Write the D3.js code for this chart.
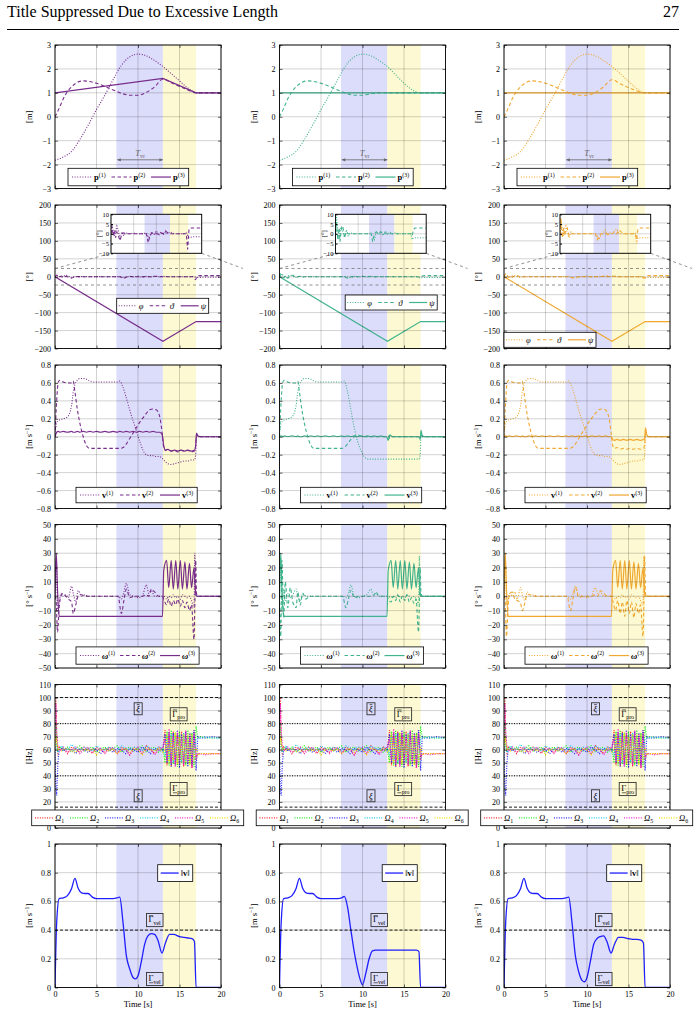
<!DOCTYPE html>
<html>
<head>
<meta charset="utf-8">
<script src="https://cdn.jsdelivr.net/npm/d3@7"></script>
<style>
body { margin: 0; background: #fff; }
svg { display: block; font-family: "Liberation Serif", "Times New Roman", serif; }
</style>
</head>
<body>
<svg id="svg" width="699" height="1015"></svg>
<script>
// ---- data ----
var xTicks = [0, 5, 10, 15, 20];
var shadeBlue = [7.4, 13], shadeYellow = [13, 17];

// row 1: position
var tPos = [0, 1, 2, 3, 4, 5, 6, 7, 8, 9, 10, 11, 12, 13, 14, 15, 16, 17, 18, 20];
var p1A = [-1.82, -1.68, -1.45, -0.95, -0.35, 0.3, 0.9, 1.55, 2.15, 2.5, 2.62, 2.55, 2.35, 2.1, 1.8, 1.5, 1.2, 1.0, 1.0, 1.0];
var p1B = [-1.82, -1.68, -1.45, -0.95, -0.35, 0.3, 0.9, 1.55, 2.15, 2.5, 2.62, 2.55, 2.35, 2.1, 1.75, 1.4, 1.12, 1.0, 1.0, 1.0];
var p1C = [-1.82, -1.68, -1.45, -0.95, -0.35, 0.3, 0.9, 1.55, 2.15, 2.5, 2.62, 2.55, 2.35, 2.1, 1.8, 1.48, 1.18, 1.0, 1.0, 1.0];
var tPos2 = [0, 0.5, 1, 1.5, 2, 2.5, 3, 3.5, 4, 5, 6, 7, 8, 9, 10, 11, 12, 13, 14, 15, 16, 17, 18, 20];
var p2A = [0, 0.35, 0.75, 1.05, 1.25, 1.4, 1.48, 1.5, 1.48, 1.4, 1.27, 1.12, 0.98, 0.9, 0.9, 1.02, 1.25, 1.57, 1.42, 1.27, 1.12, 1.0, 1.0, 1.0];
var p2B = [0, 0.35, 0.75, 1.05, 1.25, 1.4, 1.48, 1.5, 1.48, 1.4, 1.27, 1.12, 0.98, 0.9, 0.9, 0.96, 1.0, 1.0, 1.0, 1.0, 1.0, 1.0, 1.0, 1.0];
var p2C = [0, 0.35, 0.75, 1.05, 1.25, 1.4, 1.48, 1.5, 1.48, 1.4, 1.27, 1.12, 0.98, 0.9, 0.9, 1.02, 1.25, 1.55, 1.38, 1.22, 1.08, 1.0, 1.0, 1.0];
var tPos3 = [0, 13, 17, 20];
var p3A = [1, 1.6, 1, 1];
var p3B = [1, 1, 1, 1];
var p3C = [1, 1, 1, 1];

// row 2: attitude
var tPsi = [0, 13, 17, 20];
var psiAll = [0, -180, -125, -125];
var tAng = [0, 0.2, 0.5, 0.8, 1, 1.3, 1.6, 2, 2.4, 2.8, 3.2, 4, 5, 6, 7, 7.8, 8.2, 8.6, 9, 9.5, 10, 10.5, 11, 11.5, 12, 12.5, 13, 14, 15, 16, 16.6, 16.9, 17.2, 17.5, 18, 19, 20];
var phiA = [0, 5, 1, -1, 1, 4, 2, -3, 1, -1, 0.5, 0, 0.3, 0, 0, 0.5, -2, -1, 1, -0.5, 1.5, -1, 1, -0.5, 1, 0, 1, 0, 0, 0, 0.5, -1, -2, -1.8, -1.5, -1.5, -1.5];
var thA = [0, 4, -1, 2, -2, 1, -1, -3.5, 0, 0.5, 0, 0, 0, 0, 0, 0, -4.5, -1, 0.5, 0, 0, 0, 0.5, 0, 1.5, 0.5, 0, 0, 0, 0, 0, -8, 2.5, 3, 3, 3, 3];
var phiB = [0, 9, 2, -3, 1, 4, 1, -2, 2, -1, 0.5, 0, 0, 0, 0, 0, -1, -3, 1, -0.5, 1.5, -1, 1.5, -0.5, 1, 0, 0.5, 0, 0, 0, 0, -3, -2, -2, -2, -2, -2];
var thB = [0, 6, -3, 3, -4, 3, 4, -2, 1, 0, 0, 0, 0, 0, 0, 0.5, -4, 0, 1, 0, 1, 0, 0.5, 0, 0, 0, 0, 0, 0, 0, 0, -1, 2, 3, 3, 3, 3];
var phiC = [0, 7, 2, -1, 2, 4, 0, -2, 1, 0, 0, 0, 0, 0, 0, 0, -1, -3, -1, 0.5, 2, -1, 0.5, 0, 1.5, 2.5, 0, 0, 0, 0, 0.5, -5, -2, -2, -2, -2, -2];
var thC = [0, 8, -2, 3, -1, 2, 3, -1, 0, 0, 0, 0, 0, 0, 0, 0, -3, -1, 0, 0, 0, 0, 0, 0, 1, 0, 2, 0, 0, 0, 0, -3, 2.5, 3, 3, 3, 3];

// row 3: linear velocity
var tVel = [0, 0.2, 0.4, 0.6, 1, 1.5, 2, 2.2, 2.4, 2.7, 3, 3.4, 3.8, 4.2, 4.6, 5, 5.5, 6, 6.5, 7, 7.5, 7.8, 8.2, 8.6, 9, 9.4, 9.8, 10.2, 10.6, 11, 11.4, 11.8, 12.2, 12.6, 12.9, 13.1, 13.3, 13.6, 14, 14.4, 14.8, 15.2, 15.6, 16, 16.4, 16.8, 16.95, 17.05, 17.2, 17.5, 18, 20];
var v1A = [0.05, 0.15, 0.18, 0.19, 0.2, 0.22, 0.35, 0.5, 0.58, 0.63, 0.65, 0.65, 0.64, 0.62, 0.61, 0.61, 0.61, 0.61, 0.61, 0.61, 0.61, 0.62, 0.55, 0.43, 0.3, 0.18, 0.07, -0.05, -0.15, -0.2, -0.21, -0.21, -0.22, -0.22, -0.24, -0.26, -0.28, -0.3, -0.31, -0.3, -0.29, -0.28, -0.27, -0.27, -0.26, -0.26, -0.2, 0, 0, 0, 0, 0];
var v2A = [0, 0.4, 0.61, 0.63, 0.61, 0.6, 0.6, 0.62, 0.5, 0.3, 0.15, 0, -0.1, -0.13, -0.13, -0.13, -0.13, -0.13, -0.13, -0.13, -0.13, -0.13, -0.12, -0.08, -0.02, 0.04, 0.1, 0.16, 0.21, 0.26, 0.3, 0.31, 0.3, 0.23, 0.05, -0.12, -0.15, -0.14, -0.16, -0.15, -0.17, -0.15, -0.16, -0.15, -0.17, -0.16, -0.1, 0.03, 0.01, 0, 0, 0];
var v3A = [0, 0.05, 0.06, 0.05, 0.06, 0.05, 0.06, 0.05, 0.05, 0.06, 0.05, 0.06, 0.05, 0.06, 0.05, 0.06, 0.05, 0.06, 0.05, 0.06, 0.05, 0.06, 0.05, 0.06, 0.05, 0.06, 0.05, 0.06, 0.05, 0.06, 0.05, 0.06, 0.05, 0.05, 0.03, -0.1, -0.15, -0.14, -0.16, -0.15, -0.16, -0.15, -0.16, -0.15, -0.16, -0.15, -0.1, 0.04, 0.01, 0, 0, 0];
var v1B = [0.05, 0.15, 0.18, 0.19, 0.2, 0.22, 0.35, 0.5, 0.58, 0.63, 0.65, 0.65, 0.64, 0.62, 0.61, 0.61, 0.61, 0.61, 0.61, 0.61, 0.61, 0.62, 0.5, 0.3, 0.1, -0.05, -0.15, -0.22, -0.25, -0.25, -0.25, -0.25, -0.25, -0.25, -0.25, -0.25, -0.25, -0.25, -0.25, -0.25, -0.25, -0.25, -0.25, -0.25, -0.25, -0.25, -0.2, 0, 0, 0, 0, 0];
var v2B = [0, 0.4, 0.61, 0.63, 0.61, 0.6, 0.6, 0.62, 0.5, 0.3, 0.15, 0, -0.1, -0.13, -0.13, -0.13, -0.13, -0.13, -0.13, -0.13, -0.13, -0.12, -0.08, -0.03, 0, 0.02, 0.01, 0, 0, 0, 0, 0, 0, 0, 0, 0.01, -0.02, 0, 0, 0, 0, 0, 0, 0, 0, 0, 0, 0.02, 0, 0, 0, 0];
var v3B = [0, 0.01, 0, 0.01, 0, 0.01, 0, 0.01, 0, 0, 0.01, 0, 0.01, 0, 0.01, 0, 0.01, 0, 0.01, 0, 0.01, 0, 0.01, 0, 0.01, 0, 0.01, 0, 0.01, 0, 0.01, 0, 0.01, 0, 0, -0.04, 0.02, 0, 0, 0, 0, 0, 0, 0, 0, 0, -0.03, 0.07, 0.01, 0, 0, 0];
var v1C = [0.05, 0.15, 0.18, 0.19, 0.2, 0.22, 0.35, 0.5, 0.58, 0.63, 0.65, 0.65, 0.64, 0.62, 0.61, 0.61, 0.61, 0.61, 0.61, 0.61, 0.61, 0.62, 0.55, 0.43, 0.3, 0.18, 0.07, -0.05, -0.15, -0.2, -0.21, -0.21, -0.22, -0.22, -0.24, -0.26, -0.28, -0.3, -0.31, -0.3, -0.29, -0.28, -0.27, -0.27, -0.26, -0.26, -0.2, 0, 0, 0, 0, 0];
var v2C = [0, 0.4, 0.61, 0.63, 0.61, 0.6, 0.6, 0.62, 0.5, 0.3, 0.15, 0, -0.1, -0.13, -0.13, -0.13, -0.13, -0.13, -0.13, -0.13, -0.13, -0.13, -0.12, -0.08, -0.02, 0.04, 0.1, 0.16, 0.21, 0.26, 0.3, 0.31, 0.3, 0.23, 0.05, -0.1, -0.13, -0.12, -0.14, -0.13, -0.14, -0.13, -0.14, -0.13, -0.14, -0.13, -0.08, 0.03, 0.01, 0, 0, 0];
var v3C = [0, 0.01, 0, 0.01, 0, 0.01, 0, 0.01, 0, 0, 0.01, 0, 0.01, 0, 0.01, 0, 0.01, 0, 0.01, 0, 0.01, 0, 0.01, 0, 0.01, 0, 0.01, 0, 0.01, 0, 0.01, 0, 0.01, 0, 0, -0.03, -0.04, -0.03, -0.04, -0.03, -0.04, -0.03, -0.04, -0.03, -0.04, -0.03, -0.02, 0.1, 0.02, 0, 0, 0];

// row 4: angular velocity
var tOm = [0, 0.15, 0.3, 0.5, 0.7, 1, 1.3, 1.6, 2, 2.2, 2.5, 2.8, 3.2, 3.6, 4, 5, 6, 7, 7.6, 8, 8.3, 8.6, 9, 9.5, 10, 10.5, 11, 11.3, 11.6, 12, 12.5, 12.95, 13.1, 13.45, 13.7, 14.0, 14.25, 14.55, 14.8, 15.1, 15.35, 15.65, 15.9, 16.2, 16.45, 16.75, 16.85, 16.95, 17.05, 17.2, 17.5, 18, 20];
var w3All = [0, 30, 5, -14, -14, -14, -14, -14, -14, -14, -14, -14, -14, -14, -14, -14, -14, -14, -14, -14, -14, -14, -14, -14, -14, -14, -14, -14, -14, -14, -14, -14, 18, 25, 6, 25, 5, 25, 5, 25, 5, 24, 5, 23, 6, 20, 10, 2, 0, 0, 0, 0, 0];
var w1A = [0, 25, -10, -5, 2, 0, 1, -1, 7, 2, -4, 4, 0, 1, 0, 0, 0, 0, 0, -2, 3, 9, 1, 0, -1, 0, 8, 2, 4, 0, 0, 0, 0, -2, 0, -1, 1, -1, 0, -2, 1, 0, -1, 0, -3, -8, 30, 5, 0, 0, 0, 0, 0];
var w2A = [0, -5, -25, -8, 0, 2, 0, -2, -4, -12, -6, 0, 1, 0, 0, 0, 0, 0, 0, -12, -3, 5, -1, 0, 0, 0, 1, 0, 5, 3, 0, 0, -2, -6, -2, -7, -3, -6, -2, -7, -3, -8, -4, -10, -6, -30, -5, 25, 2, 0, 0, 0, 0];
var w1B = [0, 20, -8, 5, -3, 2, -1, 1, 5, 0, -3, 2, 0, 0, 0, 0, 0, 0, 0, -1, 2, 8, 0, -1, 0, 1, 5, 1, 2, 0, 0, 0, 0, -1, 0, -1, 1, -1, 0, -1, 1, 0, -1, 0, -2, -5, 28, 3, 0, 0, 0, 0, 0];
var w2B = [0, -28, 25, -15, 10, -8, 6, -4, -8, 3, -6, 2, -2, 0, 0, 0, 0, 0, 0, -8, -2, 4, -1, 0, 0, 0, 0, 0, 3, 0, 0, 0, -2, -4, 0, -3, 1, -4, 0, -3, 1, -4, -1, -5, -2, -25, -3, 20, 2, 0, 0, 0, 0];
var w1C = [0, 22, -6, -3, 2, 0, 3, -2, 6, 1, -3, 3, 0, 1, 0, 0, 0, 0, 0, -2, 2, 7, 1, 0, -1, 0, 6, 2, 3, 0, 0, 0, 0, -2, 0, -1, 1, -1, 0, -2, 1, 0, -1, 0, -3, -6, 28, 4, 0, 0, 0, 0, 0];
var w2C = [0, -4, -28, -6, 2, 3, -2, -3, -5, -10, -5, 1, 1, 0, 0, 0, 0, 0, 0, -10, -2, 6, -1, 0, 0, 0, 1, 0, 4, 2, 0, 0, -3, -10, -3, -12, -4, -14, -3, -12, -4, -15, -5, -12, -6, -28, -5, 28, 2, 0, 0, 0, 0];

// row 5: rotor speeds
var tRot = [0, 0.1, 0.2, 0.35, 0.5, 0.8,
  1, 1.5, 2, 2.5, 3, 3.5, 4, 4.5, 5, 5.5, 6, 6.5, 7, 7.5, 8, 8.5, 9, 9.5, 10, 10.5, 11, 11.5, 12, 12.5, 13,
  13.25, 13.5, 13.75, 14, 14.25, 14.5, 14.75, 15, 15.25, 15.5, 15.75, 16, 16.25, 16.5, 16.75, 17,
  17.2, 17.5, 18, 19, 20];
var om1 = [60, 100, 70, 55, 62, 60,
  61, 57, 62, 60, 58, 62, 60, 57, 62, 60, 58, 62, 60, 57, 62, 60, 56, 62, 60, 57, 63, 60, 57, 62, 60,
  75, 48, 73, 47, 74, 49, 72, 48, 74, 47, 73, 49, 72, 46, 75, 52,
  57, 57, 57, 57, 57];
var om2 = [60, 80, 65, 58, 61, 62,
  60, 62, 58, 61, 63, 59, 61, 62, 58, 61, 62, 59, 61, 63, 58, 61, 62, 59, 61, 63, 58, 61, 62, 58, 61,
  50, 74, 48, 75, 49, 73, 47, 74, 50, 72, 48, 75, 49, 73, 47, 78,
  69, 70, 69, 69, 69];
var om3 = [60, 30, 25, 50, 60, 61,
  59, 61, 60, 57, 61, 60, 58, 61, 60, 57, 61, 60, 58, 61, 60, 57, 61, 60, 58, 62, 60, 57, 61, 60, 59,
  72, 50, 74, 47, 73, 48, 75, 46, 72, 49, 74, 47, 73, 48, 75, 44,
  70, 69, 69, 70, 69];
var om4 = [60, 65, 62, 58, 60, 63,
  61, 60, 64, 61, 60, 62, 61, 59, 63, 61, 60, 62, 61, 59, 63, 61, 60, 62, 61, 59, 63, 61, 60, 62, 61,
  55, 70, 52, 72, 50, 70, 53, 71, 51, 73, 50, 70, 52, 71, 50, 68,
  69, 69, 70, 69, 69];
var om5 = [60, 95, 75, 62, 59, 60,
  62, 58, 60, 62, 57, 60, 62, 58, 60, 61, 57, 60, 62, 58, 60, 61, 56, 60, 62, 57, 60, 61, 56, 60, 62,
  68, 52, 76, 50, 70, 47, 74, 52, 69, 48, 75, 51, 70, 46, 73, 55,
  57, 57, 56, 57, 57];
var om6 = [60, 70, 66, 60, 61, 59,
  60, 61, 59, 58, 61, 60, 59, 61, 56, 60, 61, 59, 61, 57, 60, 61, 58, 61, 60, 56, 61, 60, 59, 61, 58,
  60, 72, 50, 70, 52, 73, 49, 70, 52, 72, 50, 71, 48, 72, 50, 62,
  56, 57, 57, 57, 57];
var rotRefDashed = [100, 16], rotRefDotted = [80, 40];

// row 6: speed norm
var tNv = [0, 0.2, 0.5, 1, 1.5, 2, 2.4, 2.8, 3.2, 3.6, 4, 4.5, 5, 6, 7, 7.5, 7.8, 8.2, 8.6, 9, 9.4, 9.7, 10, 10.4, 10.8, 11.2, 11.6, 12, 12.4, 12.9, 13.3, 13.8, 14.3, 15, 15.5, 16, 16.5, 16.8, 17, 18, 20];
var nvA = [0, 0.45, 0.62, 0.625, 0.64, 0.69, 0.76, 0.69, 0.66, 0.655, 0.655, 0.63, 0.62, 0.62, 0.62, 0.625, 0.63, 0.45, 0.22, 0.13, 0.07, 0.06, 0.08, 0.18, 0.3, 0.36, 0.375, 0.37, 0.33, 0.24, 0.31, 0.37, 0.37, 0.355, 0.35, 0.345, 0.34, 0.32, 0, 0, 0];
var nvB = [0, 0.45, 0.62, 0.625, 0.64, 0.69, 0.76, 0.69, 0.66, 0.655, 0.655, 0.63, 0.62, 0.62, 0.62, 0.625, 0.635, 0.56, 0.4, 0.25, 0.13, 0.06, 0.02, 0.1, 0.2, 0.255, 0.26, 0.26, 0.26, 0.26, 0.26, 0.26, 0.26, 0.26, 0.26, 0.26, 0.26, 0.25, 0, 0, 0];
var nvC = [0, 0.45, 0.62, 0.625, 0.64, 0.69, 0.76, 0.69, 0.66, 0.655, 0.655, 0.63, 0.62, 0.62, 0.62, 0.625, 0.63, 0.45, 0.22, 0.11, 0.05, 0.04, 0.07, 0.18, 0.3, 0.34, 0.355, 0.36, 0.32, 0.24, 0.3, 0.35, 0.35, 0.34, 0.335, 0.335, 0.33, 0.31, 0, 0, 0];
var nvRef = 0.4;

var ticksPos = [-3, -2, -1, 0, 1, 2, 3];
var ticksAng = [-200, -150, -100, -50, 0, 50, 100, 150, 200];
var ticksVel = [-0.8, -0.6, -0.4, -0.2, 0, 0.2, 0.4, 0.6, 0.8];
var ticksOm = [-50, -40, -30, -20, -10, 0, 10, 20, 30, 40, 50];
var ticksHz = [0, 10, 20, 30, 40, 50, 60, 70, 80, 90, 100, 110];
var ticksNv = [0, 0.2, 0.4, 0.6, 0.8, 1];
var ticksInset = [-10, -5, 0, 5, 10];

// ---- layout ----
var svg = d3.select("#svg");
var colLeft = [55, 279.5, 504], rowTop = [45, 205, 365, 524.5, 684.5, 844];
var W = 166, H = 143.5;
var colColor = ["#782d8c", "#41b38e", "#f0a830"];
var rotColor = ["#ff2a2a", "#22ee22", "#2a2aff", "#22ccee", "#ee22cc", "#f2e000"];
var DOT = {w: 1.1, dash: "1,1.6"}, DASH = {w: 1.1, dash: "3.5,2.5"}, SOLID = {w: 1.2, dash: null};
var fmt = d3.format("~g");

svg.append("rect").attr("width", 699).attr("height", 1015).attr("fill", "#fff");
svg.append("text").attr("x", 7).attr("y", 17).attr("font-size", 16).text("Title Suppressed Due to Excessive Length");
svg.append("text").attr("x", 679).attr("y", 17).attr("font-size", 16).attr("text-anchor", "end").text("27");
svg.append("line").attr("x1", 7).attr("x2", 679).attr("y1", 29.5).attr("y2", 29.5).attr("stroke", "#000").attr("stroke-width", 1);

function rich(g, x, y, parts, fs, anchor) {
  var t = g.append("text").attr("x", x).attr("y", y).attr("font-size", fs);
  if (anchor) t.attr("text-anchor", anchor);
  var cur = 0;
  parts.forEach(function(p) {
    if (typeof p === "string") p = {t: p};
    var off = p.sup ? -fs * 0.38 : (p.sub ? fs * 0.25 : 0);
    var s = t.append("tspan").text(p.t).attr("dy", off - cur);
    cur = off;
    if (p.sup || p.sub) s.attr("font-size", fs * 0.7);
    if (p.b) s.attr("font-weight", "bold");
    if (p.i) s.attr("font-style", "italic");
  });
  return t;
}

var clipN = 0;
function panel(ci, ri, ydom) {
  var L = colLeft[ci], T = rowTop[ri];
  var x = d3.scaleLinear().domain([0, 20]).range([L, L + W]);
  var y = d3.scaleLinear().domain(ydom).range([T + H, T]);
  var g = svg.append("g");
  g.append("rect").attr("x", x(shadeBlue[0])).attr("y", T).attr("width", x(shadeBlue[1]) - x(shadeBlue[0])).attr("height", H).attr("fill", "#dcdcfb");
  g.append("rect").attr("x", x(shadeYellow[0])).attr("y", T).attr("width", x(shadeYellow[1]) - x(shadeYellow[0])).attr("height", H).attr("fill", "#fdf9d2");
  var id = "clip" + (clipN++);
  svg.append("clipPath").attr("id", id).append("rect").attr("x", L).attr("y", T).attr("width", W).attr("height", H);
  var plot = g.append("g").attr("clip-path", "url(#" + id + ")");
  return {x: x, y: y, g: g, plot: plot, L: L, T: T};
}

function grid(p, yticks) {
  p.g.selectAll(null).data(xTicks).enter().append("line")
    .attr("x1", function(d) { return p.x(d); }).attr("x2", function(d) { return p.x(d); })
    .attr("y1", p.T).attr("y2", p.T + H).attr("stroke", "rgba(0,0,0,0.2)").attr("stroke-width", 0.9);
  p.g.selectAll(null).data(yticks).enter().append("line")
    .attr("y1", function(d) { return p.y(d); }).attr("y2", function(d) { return p.y(d); })
    .attr("x1", p.L).attr("x2", p.L + W).attr("stroke", "rgba(0,0,0,0.2)").attr("stroke-width", 0.9);
}

function series(p, xs, ys, color, st, curve, target) {
  var data = xs.map(function(t, i) { return [t, ys[i]]; });
  var gen = d3.line().x(function(d) { return p.x(d[0]); }).y(function(d) { return p.y(d[1]); }).curve(curve || d3.curveMonotoneX);
  (target || p.plot).append("path").attr("d", gen(data)).attr("fill", "none")
    .attr("stroke", color).attr("stroke-width", st.w).attr("stroke-dasharray", st.dash);
}

function hline(p, v, st, color) {
  p.plot.append("line").attr("x1", p.L).attr("x2", p.L + W).attr("y1", p.y(v)).attr("y2", p.y(v))
    .attr("stroke", color || "#000").attr("stroke-width", st.w).attr("stroke-dasharray", st.dash);
}

function axes(p, yticks, xlabels, ylabel) {
  var a = [];
  a.push(svg.append("g").attr("transform", "translate(" + p.L + ",0)")
    .call(d3.axisLeft(p.y).tickValues(yticks).tickSize(-3).tickPadding(4).tickFormat(fmt)));
  a.push(svg.append("g").attr("transform", "translate(" + (p.L + W) + ",0)")
    .call(d3.axisRight(p.y).tickValues(yticks).tickSize(-3).tickFormat("")));
  a.push(svg.append("g").attr("transform", "translate(0," + (p.T + H) + ")")
    .call(d3.axisBottom(p.x).tickValues(xTicks).tickSize(-3).tickPadding(4).tickFormat(xlabels ? fmt : "")));
  a.push(svg.append("g").attr("transform", "translate(0," + p.T + ")")
    .call(d3.axisTop(p.x).tickValues(xTicks).tickSize(-3).tickFormat("")));
  a.forEach(function(s) {
    s.select(".domain").remove();
    s.attr("font-family", null).attr("font-size", 8);
    s.selectAll("line").attr("stroke-width", 0.6);
  });
  svg.append("rect").attr("x", p.L).attr("y", p.T).attr("width", W).attr("height", H)
    .attr("fill", "none").attr("stroke", "#000").attr("stroke-width", 0.9);
  var lg = svg.append("g").attr("transform", "translate(" + (p.L - 23) + "," + (p.T + H / 2) + ") rotate(-90)");
  rich(lg, 0, 0, ylabel, 8.5, "middle");
  if (xlabels) rich(svg, p.L + W / 2, p.T + H + 19, ["Time [s]"], 8.5, "middle");
}

function legend(lx, ly, h, items, opt) {
  var g = svg.append("g");
  var box = g.append("rect").attr("fill", "#fff").attr("stroke", "#000").attr("stroke-width", 0.8);
  var cx = lx + opt.pad, cy = ly + h / 2, end = cx;
  items.forEach(function(it, i) {
    if (opt.step) cx = lx + opt.pad + i * opt.step;
    g.append("line").attr("x1", cx).attr("x2", cx + opt.len).attr("y1", cy).attr("y2", cy)
      .attr("stroke", it.color).attr("stroke-width", it.st.w).attr("stroke-dasharray", it.st.dash);
    var t = rich(g, cx + opt.len + 2, cy + 3, it.parts, opt.fs);
    end = cx + opt.len + 2 + t.node().getBBox().width;
    cx = end + opt.gap;
  });
  box.attr("x", lx).attr("y", ly).attr("width", (opt.width || (end + opt.pad - lx))).attr("height", h);
}

// boxed annotation; bar = "over" or "under" marks the first glyph
function boxLabel(p, tx, vy, parts, bar, barH) {
  var g = svg.append("g");
  var fs = 8.5, base = p.y(vy) + 3;
  var t = rich(g, p.x(tx), base, parts, fs, "middle");
  var e = t.node().getExtentOfChar(0);
  var by = bar === "over" ? base - fs * barH - 1.2 : base + 1.3;
  g.append("line").attr("x1", e.x + 0.6).attr("x2", e.x + e.width - 0.2).attr("y1", by).attr("y2", by)
    .attr("stroke", "#000").attr("stroke-width", 0.6);
  var b = t.node().getBBox();
  g.insert("rect", "text").attr("x", b.x - 2).attr("y", b.y - 1).attr("width", b.width + 4).attr("height", b.height + 2)
    .attr("fill", "none").attr("stroke", "#333").attr("stroke-width", 0.9);
}

function sup(base, s, bold, ital) { return [{t: base, b: bold, i: ital}, {t: s, sup: true}]; }

// ---- row 1: position ----
var posData = [[p1A, p2A, p3A], [p1B, p2B, p3B], [p1C, p2C, p3C]];
posData.forEach(function(d, ci) {
  var p = panel(ci, 0, [-3, 3]);
  grid(p, ticksPos);
  var c = colColor[ci];
  series(p, tPos, d[0], c, DOT);
  series(p, tPos2, d[1], c, DASH);
  series(p, tPos3, d[2], c, SOLID, d3.curveLinear);
  // T_vr span
  var ay = p.y(-1.8), ax1 = p.x(7.5), ax2 = p.x(13);
  svg.append("line").attr("x1", ax1).attr("x2", ax2).attr("y1", ay).attr("y2", ay).attr("stroke", "#666").attr("stroke-width", 0.8);
  svg.append("path").attr("d", "M" + ax1 + "," + ay + "l3.5,-1.6v3.2z M" + ax2 + "," + ay + "l-3.5,-1.6v3.2z").attr("fill", "#666");
  rich(svg, (ax1 + ax2) / 2, ay - 4, [{t: "T", i: true}, {t: "vr", sub: true}], 8.5, "middle").attr("fill", "#666");
  axes(p, ticksPos, false, ["[m]"]);
  legend(p.L + 13, p.T + 123.3, 17.5, [
    {color: c, st: DOT, parts: sup("p", "(1)", true)},
    {color: c, st: DASH, parts: sup("p", "(2)", true)},
    {color: c, st: SOLID, parts: sup("p", "(3)", true)}
  ], {pad: 4, len: 20, gap: 4, fs: 8.5, step: 39.5});
});

// ---- row 2: attitude with inset ----
var angData = [[phiA, thA], [phiB, thB], [phiC, thC]];
var angLegend = [[61.7, 93.3], [65.7, 90], [0, 127.3]];
angData.forEach(function(d, ci) {
  var p = panel(ci, 1, [-200, 200]);
  grid(p, ticksAng);
  var c = colColor[ci];
  series(p, tAng, d[0], c, DOT);
  series(p, tAng, d[1], c, DASH);
  series(p, tPsi, psiAll, c, SOLID, d3.curveLinear);
  // zoom window marks
  var spy = {w: 0.8, dash: "3,3"};
  hline(p, 23, spy, "#777");
  hline(p, -23, spy, "#777");
  var iL = p.L + 56, iT = p.T + 9.3, iW = 90.7, iH = 39;
  svg.append("line").attr("x1", p.L).attr("y1", p.y(23)).attr("x2", iL).attr("y2", iT + iH)
    .attr("stroke", "#777").attr("stroke-width", 0.8).attr("stroke-dasharray", "3,3");
  svg.append("line").attr("x1", iL + iW).attr("y1", iT + iH).attr("x2", p.L + 188).attr("y2", p.y(23))
    .attr("stroke", "#777").attr("stroke-width", 0.8).attr("stroke-dasharray", "3,3");
  axes(p, ticksAng, false, ["[°]"]);
  legend(p.L + angLegend[ci][0], p.T + angLegend[ci][1], 15, [
    {color: c, st: DOT, parts: [{t: "φ", i: true}]},
    {color: c, st: DASH, parts: [{t: "ϑ", i: true}]},
    {color: c, st: SOLID, parts: [{t: "ψ", i: true}]}
  ], {pad: 2, len: 18, gap: 4, fs: 8.5, step: 31});
  // inset
  var q = {
    x: d3.scaleLinear().domain([0, 20]).range([iL, iL + iW]),
    y: d3.scaleLinear().domain([-10, 10]).range([iT + iH, iT]),
    L: iL, T: iT
  };
  var ig = svg.append("g");
  ig.append("rect").attr("x", iL).attr("y", iT).attr("width", iW).attr("height", iH).attr("fill", "#fff");
  ig.append("rect").attr("x", q.x(shadeBlue[0])).attr("y", iT).attr("width", q.x(shadeBlue[1]) - q.x(shadeBlue[0])).attr("height", iH).attr("fill", "#dcdcfb");
  ig.append("rect").attr("x", q.x(shadeYellow[0])).attr("y", iT).attr("width", q.x(shadeYellow[1]) - q.x(shadeYellow[0])).attr("height", iH).attr("fill", "#fdf9d2");
  ig.selectAll(null).data(xTicks).enter().append("line")
    .attr("x1", function(v) { return q.x(v); }).attr("x2", function(v) { return q.x(v); })
    .attr("y1", iT).attr("y2", iT + iH).attr("stroke", "rgba(0,0,0,0.2)").attr("stroke-width", 0.8);
  ig.selectAll(null).data(ticksInset).enter().append("line")
    .attr("y1", function(v) { return q.y(v); }).attr("y2", function(v) { return q.y(v); })
    .attr("x1", iL).attr("x2", iL + iW).attr("stroke", "rgba(0,0,0,0.2)").attr("stroke-width", 0.8);
  var id = "clip" + (clipN++);
  svg.append("clipPath").attr("id", id).append("rect").attr("x", iL).attr("y", iT).attr("width", iW).attr("height", iH);
  var ip = ig.append("g").attr("clip-path", "url(#" + id + ")");
  series(q, tAng, d[0], c, DOT, d3.curveLinear, ip);
  series(q, tAng, d[1], c, DASH, d3.curveLinear, ip);
  ig.append("rect").attr("x", iL).attr("y", iT).attr("width", iW).attr("height", iH)
    .attr("fill", "none").attr("stroke", "#000").attr("stroke-width", 0.9);
  var ia = svg.append("g").attr("transform", "translate(" + iL + ",0)")
    .call(d3.axisLeft(q.y).tickValues(ticksInset).tickSize(-2).tickPadding(2).tickFormat(fmt));
  ia.select(".domain").remove();
  ia.attr("font-family", null).attr("font-size", 6.5);
  var il = svg.append("g").attr("transform", "translate(" + (iL - 10) + "," + (iT + iH / 2) + ") rotate(-90)");
  rich(il, 0, 0, ["[°]"], 6.5, "middle");
});

// ---- row 3: linear velocity ----
var velData = [[v1A, v2A, v3A], [v1B, v2B, v3B], [v1C, v2C, v3C]];
velData.forEach(function(d, ci) {
  var p = panel(ci, 2, [-0.8, 0.8]);
  grid(p, ticksVel);
  var c = colColor[ci];
  series(p, tVel, d[0], c, DOT);
  series(p, tVel, d[1], c, DASH);
  series(p, tVel, d[2], c, SOLID);
  axes(p, ticksVel, false, ["[m s", {t: "−1", sup: true}, {t: "]"}]);
  legend(p.L + 21, p.T + 122.3, 15.5, [
    {color: c, st: DOT, parts: sup("v", "(1)", true)},
    {color: c, st: DASH, parts: sup("v", "(2)", true)},
    {color: c, st: SOLID, parts: sup("v", "(3)", true)}
  ], {pad: 4, len: 20, gap: 4, fs: 8.5, step: 40});
});

// ---- row 4: angular velocity ----
var omData = [[w1A, w2A], [w1B, w2B], [w1C, w2C]];
omData.forEach(function(d, ci) {
  var p = panel(ci, 3, [-50, 50]);
  grid(p, ticksOm);
  var c = colColor[ci];
  series(p, tOm, d[0], c, DOT);
  series(p, tOm, d[1], c, DASH);
  series(p, tOm, w3All, c, SOLID);
  axes(p, ticksOm, false, ["[° s", {t: "−1", sup: true}, {t: "]"}]);
  legend(p.L + 21, p.T + 122.4, 17.3, [
    {color: c, st: DOT, parts: sup("ω", "(1)", true, true)},
    {color: c, st: DASH, parts: sup("ω", "(2)", true, true)},
    {color: c, st: SOLID, parts: sup("ω", "(3)", true, true)}
  ], {pad: 4, len: 20, gap: 4, fs: 8.5, step: 40});
});

// ---- row 5: rotor speeds ----
var rotData = [om1, om2, om3, om4, om5, om6];
var xiX = [10, 11, 11];
[0, 1, 2].forEach(function(ci) {
  var p = panel(ci, 4, [0, 110]);
  grid(p, ticksHz);
  rotData.forEach(function(s, k) {
    series(p, tRot, s, rotColor[k], {w: 1.2, dash: "1,1.4"}, d3.curveLinear);
  });
  rotRefDashed.forEach(function(v) { hline(p, v, {w: 0.9, dash: "3,2"}); });
  rotRefDotted.forEach(function(v) { hline(p, v, {w: 1, dash: "1,1.5"}); });
  axes(p, ticksHz, false, ["[Hz]"]);
  boxLabel(p, xiX[ci], 91.4, [{t: "ξ", i: true}], "over", 0.7);
  boxLabel(p, 14.9, 87.6, [{t: "Γ"}, {t: "pro", sub: true}], "over", 0.66);
  boxLabel(p, 14.9, 30.3, [{t: "Γ"}, {t: "pro", sub: true}], "under");
  boxLabel(p, xiX[ci], 24.7, [{t: "ξ", i: true}], "under");
  legend(p.L - 23.3, 810, 15.7, rotData.map(function(s, k) {
    return {color: rotColor[k], st: {w: 1.2, dash: "1,1.4"}, parts: [{t: "Ω", i: true}, {t: String(k + 1), sub: true}]};
  }), {pad: 3.3, len: 18, gap: 4, fs: 8.5, step: 35, width: 212});
});

// ---- row 6: speed norm ----
var nvData = [nvA, nvB, nvC];
nvData.forEach(function(d, ci) {
  var p = panel(ci, 5, [0, 1]);
  grid(p, ticksNv);
  series(p, tNv, d, "#1f1fff", {w: 1.3, dash: null});
  hline(p, nvRef, {w: 0.9, dash: "3,2"});
  axes(p, ticksNv, true, ["[m s", {t: "−1", sup: true}, {t: "]"}]);
  boxLabel(p, 12, 0.474, [{t: "Γ"}, {t: "vel", sub: true}], "over", 0.66);
  boxLabel(p, 12, 0.063, [{t: "Γ"}, {t: "vel", sub: true}], "under");
  legend(p.L + 102.7, p.T + 20.7, 16.7, [
    {color: "#1f1fff", st: {w: 1.3, dash: null}, parts: [{t: "‖"}, {t: "v", b: true}, {t: "‖"}]}
  ], {pad: 3, len: 18, gap: 4, fs: 8.5});
});
</script>
</body>
</html>
